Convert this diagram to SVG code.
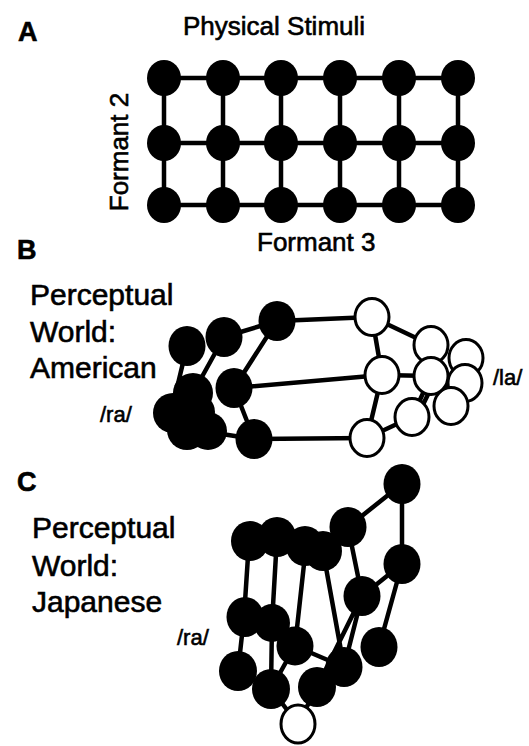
<svg xmlns="http://www.w3.org/2000/svg" width="529" height="746" viewBox="0 0 529 746">
<style>
.t{font-family:"Liberation Sans",Arial,sans-serif;fill:#000;stroke:#000;stroke-width:0.6}
.h{font-weight:bold;font-size:27px}
.big{font-size:30px}
.lab{font-size:26px}
.ph{font-size:22px}
.ln{stroke:#000;stroke-width:4.5;fill:none;stroke-linecap:round}
.bn{fill:#000}
.wn{fill:#fff;stroke:#000;stroke-width:3}
</style>
<rect width="529" height="746" fill="#fff"/>
<text class="t h" x="18" y="41">A</text>
<text class="t lab" x="183" y="35">Physical Stimuli</text>
<text class="t lab" text-anchor="middle" transform="translate(128,152) rotate(-90)">Formant 2</text>
<text class="t lab" x="257" y="251">Formant 3</text>
<text class="t h" x="17" y="259">B</text>
<text class="t big" x="30" y="305">Perceptual</text>
<text class="t big" x="30" y="342">World:</text>
<text class="t big" x="30" y="378">American</text>
<text class="t ph" x="100" y="422">/ra/</text>
<text class="t ph" x="493" y="385">/la/</text>
<text class="t h" x="17" y="491">C</text>
<text class="t big" x="32" y="538">Perceptual</text>
<text class="t big" x="32" y="576">World:</text>
<text class="t big" x="32" y="612">Japanese</text>
<text class="t ph" x="177" y="645">/ra/</text>
<g id="connectors">
<path class="ln" d="M164 78H458M164 143H458M164 205H458M164 78V205M223 78V205M281 78V205M340 78V205M399 78V205M458 78V205"/>
<path class="ln" d="M187 346L171 413M224 337L193 393M224 337L277 321M277 321L234 388M277 321L372 317M234 388L382 375M234 388L254 439M209 432L254 439M254 439L367 438"/>
<path class="ln" d="M372 317L431 345M372 317L382 375M382 375L431 376M382 375L367 438M367 438L412 417M431 376L412 417M436 378L416 419M431 345L451 406M431 376L465 383"/>
<path class="ln" d="M402 484L348 527M402 484L402 564M402 564L362 596M402 564L379 647M348 527L362 596M362 596L317 687M362 596L344 667M249 541L244 617M277 537L272 623M306 546L295 646M323 551L344 667M244 617L238 671M272 623L271 689M295 646L271 689M295 646L344 667M271 689L298 724M317 687L298 724"/>
</g>
<g id="A-grid">
<g class="bn">
<ellipse cx="164" cy="78" rx="17" ry="18"/><ellipse cx="223" cy="78" rx="17" ry="18"/><ellipse cx="281" cy="78" rx="17" ry="18"/><ellipse cx="340" cy="78" rx="17" ry="18"/><ellipse cx="399" cy="78" rx="17" ry="18"/><ellipse cx="458" cy="78" rx="17" ry="18"/>
<ellipse cx="164" cy="143" rx="17" ry="18"/><ellipse cx="223" cy="143" rx="17" ry="18"/><ellipse cx="281" cy="143" rx="17" ry="18"/><ellipse cx="340" cy="143" rx="17" ry="18"/><ellipse cx="399" cy="143" rx="17" ry="18"/><ellipse cx="458" cy="143" rx="17" ry="18"/>
<ellipse cx="164" cy="205" rx="17" ry="18"/><ellipse cx="223" cy="205" rx="17" ry="18"/><ellipse cx="281" cy="205" rx="17" ry="18"/><ellipse cx="340" cy="205" rx="17" ry="18"/><ellipse cx="399" cy="205" rx="17" ry="18"/><ellipse cx="458" cy="205" rx="17" ry="18"/>
</g>
</g>
<g id="B-american">
<g class="bn">
<ellipse cx="187" cy="346" rx="18.5" ry="20"/>
<ellipse cx="224" cy="337" rx="18.5" ry="20"/>
<ellipse cx="277" cy="321" rx="18.5" ry="20"/>
<ellipse cx="234" cy="388" rx="18.5" ry="20"/>
<ellipse cx="254" cy="439" rx="18.5" ry="20"/>
<ellipse cx="193" cy="393" rx="20" ry="20"/>
<ellipse cx="173" cy="413" rx="20" ry="20"/>
<ellipse cx="187" cy="430" rx="20" ry="20"/>
<ellipse cx="208" cy="431" rx="19" ry="19"/>
<ellipse cx="197" cy="412" rx="18" ry="18"/>
</g>
<g class="wn">
<ellipse cx="372" cy="317" rx="17" ry="18.5"/>
<ellipse cx="431" cy="345" rx="17" ry="18.5"/>
<ellipse cx="466" cy="358" rx="17" ry="18.5"/>
<ellipse cx="465" cy="383" rx="17" ry="18.5"/>
<ellipse cx="451" cy="406" rx="17" ry="18.5"/>
<ellipse cx="431" cy="376" rx="17" ry="18.5"/>
<ellipse cx="382" cy="375" rx="17" ry="18.5"/>
<ellipse cx="412" cy="417" rx="17" ry="18.5"/>
<ellipse cx="367" cy="438" rx="17" ry="18.5"/>
</g>
</g>
<g id="C-japanese">
<g class="bn">
<ellipse cx="402" cy="484" rx="18.5" ry="20"/>
<ellipse cx="348" cy="527" rx="18.5" ry="20"/>
<ellipse cx="402" cy="564" rx="18.5" ry="20"/>
<ellipse cx="250" cy="541" rx="19" ry="20"/>
<ellipse cx="277" cy="537" rx="19" ry="20"/>
<ellipse cx="305" cy="546" rx="19" ry="20"/>
<ellipse cx="323" cy="551" rx="19" ry="20"/>
<ellipse cx="362" cy="596" rx="18.5" ry="20"/>
<ellipse cx="245" cy="617" rx="18.5" ry="20"/>
<ellipse cx="272" cy="623" rx="18" ry="19"/>
<ellipse cx="295" cy="646" rx="18.5" ry="19.5"/>
<ellipse cx="238" cy="671" rx="19" ry="20"/>
<ellipse cx="271" cy="689" rx="19" ry="20"/>
<ellipse cx="317" cy="687" rx="19" ry="20"/>
<ellipse cx="344" cy="667" rx="18.5" ry="20"/>
<ellipse cx="379" cy="647" rx="18.5" ry="20"/>
</g>
<ellipse class="wn" cx="298" cy="724" rx="17" ry="19"/>
</g>
</svg>
